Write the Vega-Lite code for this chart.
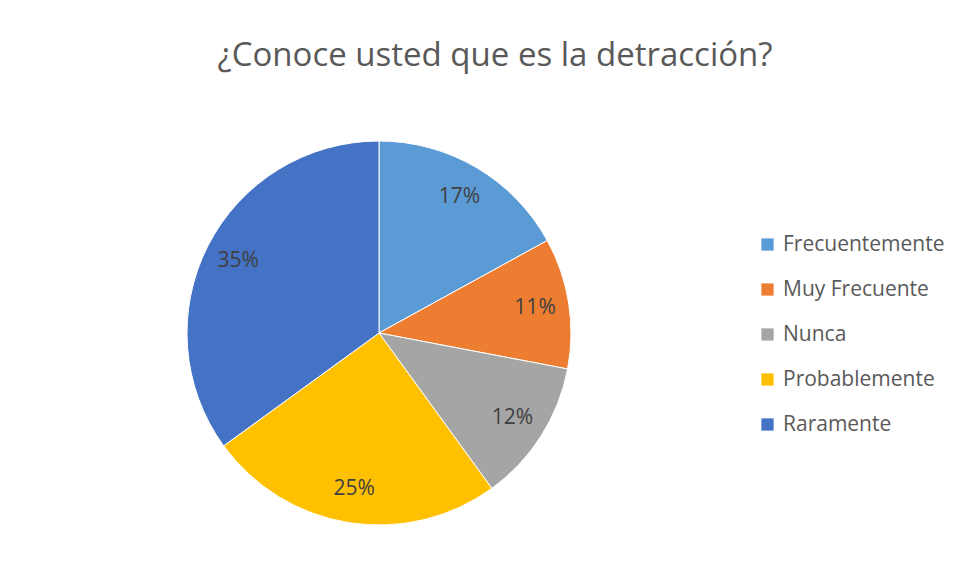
{
  "$schema": "https://vega.github.io/schema/vega-lite/v6.json",
  "width": 384,
  "height": 384,
  "autosize": {"type": "none"},
  "padding": {"left": 187, "top": 141, "right": 384, "bottom": 56},
  "background": "white",
  "config": {"view": {"stroke": null}},
  "title": {
    "text": "¿Conoce usted que es la detracción?",
    "font": "Open Sans",
    "fontSize": 33,
    "fontWeight": "normal",
    "color": "#595959",
    "anchor": "middle",
    "dx": 116,
    "offset": 66
  },
  "data": {
    "values": [
      {"respuesta": "Frecuentemente", "pct": 0.17},
      {"respuesta": "Muy Frecuente", "pct": 0.11},
      {"respuesta": "Nunca", "pct": 0.12},
      {"respuesta": "Probablemente", "pct": 0.25},
      {"respuesta": "Raramente", "pct": 0.35}
    ]
  },
  "encoding": {
    "theta": {"field": "pct", "type": "quantitative", "stack": true},
    "order": {"field": "respuesta", "type": "nominal"},
    "color": {
      "field": "respuesta",
      "type": "nominal",
      "scale": {
        "domain": ["Frecuentemente", "Muy Frecuente", "Nunca", "Probablemente", "Raramente"],
        "range": ["#5B9BD5", "#ED7D31", "#A5A5A5", "#FFC000", "#4472C4"]
      },
      "legend": {
        "title": null,
        "orient": "none",
        "legendX": 570,
        "legendY": 93,
        "padding": 0,
        "symbolType": "square",
        "symbolSize": 150,
        "symbolStrokeWidth": 0,
        "labelFont": "Open Sans",
        "labelFontSize": 21,
        "labelColor": "#595959",
        "labelOffset": 5,
        "labelLimit": 400,
        "rowPadding": 23
      }
    }
  },
  "layer": [
    {"mark": {"type": "arc", "outerRadius": 192, "stroke": "white", "strokeWidth": 1}},
    {
      "mark": {"type": "text", "radius": 158, "font": "Open Sans", "fontSize": 21, "fill": "#404040"},
      "encoding": {
        "text": {"field": "pct", "type": "quantitative", "format": ".0%"},
        "detail": {"field": "respuesta", "type": "nominal"},
        "color": {"value": "#404040"}
      }
    }
  ]
}
